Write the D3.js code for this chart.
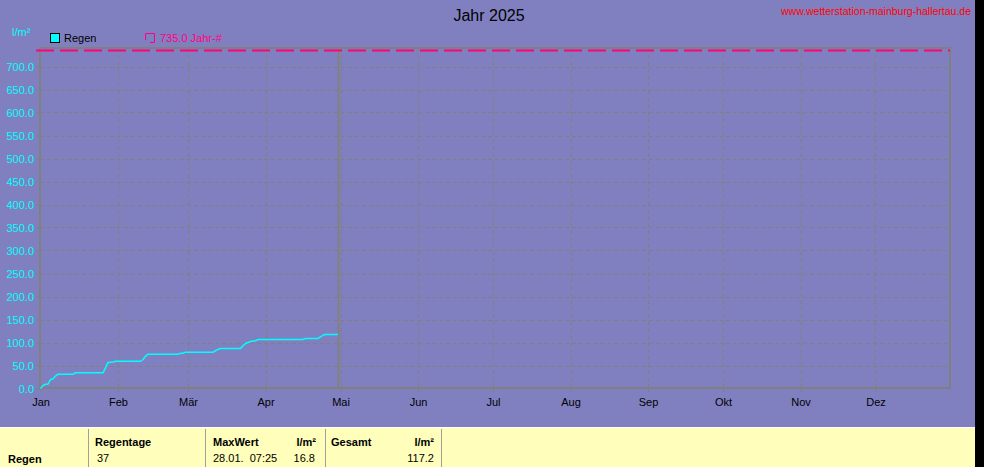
<!DOCTYPE html>
<html>
<head>
<meta charset="utf-8">
<script src="https://cdn.jsdelivr.net/npm/d3@7"></script>
<style>
  html, body { margin: 0; padding: 0; background: #8080C0; }
  svg { display: block; }
  text { font-family: "Liberation Sans", Arial, sans-serif; }
</style>
</head>
<body>
<svg id="chart" width="984" height="467"></svg>
<script>
// ---- data ----
const monthLabels = ["Jan","Feb","Mär","Apr","Mai","Jun","Jul","Aug","Sep","Okt","Nov","Dez"];
const yTicks = [0,50,100,150,200,250,300,350,400,450,500,550,600,650,700];
// day index from 1 Jan 2025, cumulative rain l/m²
const rainDays = [0,1,2,3,4,5,6,7,13,14,25,26,27,28,29,30,40,41,42,43,55,56,57,58,69,70,71,72,80,81,82,83,84,86,87,105,106,111,112,113,114,119];
const rainSum  = [0,6.5,9.3,9.5,19.5,21,27,31,31,34,34,45,56.5,57,57.5,59,59,63,70,74.5,74.5,76.7,76.7,79,79,82,85,87,87,93,97.8,100,102,104,106.5,106.5,108.7,108.7,112,116,117.2,117.2];
const yearAvg = 735.0;
const todayIndex = 119.2;
const title = "Jahr 2025";
const siteUrl = "www.wetterstation-mainburg-hallertau.de";
const tableHeaders = ["Regentage","MaxWert","l/m²","Gesamt","l/m²"];
const tableValues = {name: "Regen", days: "37", maxDate: "28.01.  07:25", maxVal: "16.8", total: "117.2"};

// ---- chart ----
const svg = d3.select("#chart");
const W = 984, H = 467;
const start = new Date(2025, 0, 1);
const end = new Date(2025, 11, 31);
const x = d3.scaleTime().domain([start, end]).range([40.5, 950.5]);
const y = d3.scaleLinear().domain([0, 740]).range([388.5, 48.1]);
const dayDate = d => d3.timeDay.offset(start, Math.floor(d)).getTime() + (d % 1) * 864e5;

const gray = "#808080";
svg.append("rect").attr("width", W).attr("height", H).attr("fill", "#8080C0");
svg.append("rect").attr("x", 975).attr("y", 0).attr("width", 9).attr("height", H).attr("fill", "#000");

// title + url
svg.append("text").attr("x", 489).attr("y", 21).attr("text-anchor", "middle")
  .attr("font-size", 16).attr("fill", "#000").text(title);
svg.append("text").attr("x", 781).attr("y", 15)
  .attr("font-size", 11).attr("fill", "#FF0000")
  .attr("textLength", 190).attr("lengthAdjust", "spacingAndGlyphs").text(siteUrl);

// unit label
svg.append("text").attr("x", 12).attr("y", 36).attr("font-size", 11).attr("fill", "#00FFFF").text("l/m²");

// legend
svg.append("rect").attr("x", 50.5).attr("y", 33.5).attr("width", 9).attr("height", 9)
  .attr("fill", "#00FFFF").attr("stroke", "#000");
svg.append("text").attr("x", 64).attr("y", 42).attr("font-size", 11).attr("fill", "#000").text("Regen");
svg.append("path").attr("d", "M145.5,40 V33.5 H154.5 V42.5 H150")
  .attr("fill", "none").attr("stroke", "#FF0080");
svg.append("text").attr("x", 160).attr("y", 42).attr("font-size", 11).attr("fill", "#FF0080")
  .text(d3.format(".1f")(yearAvg) + " Jahr-#");

// gridlines
const months = d3.timeMonth.range(start, new Date(2026, 0, 1));
svg.append("g").selectAll("line").data(yTicks.filter(v => v > 0)).join("line")
  .attr("x1", 40).attr("x2", 950).attr("y1", d => Math.round(y(d)) + 0.5).attr("y2", d => Math.round(y(d)) + 0.5)
  .attr("stroke", gray).attr("stroke-dasharray", "4,3");
svg.append("g").selectAll("line").data(months.slice(1)).join("line")
  .attr("x1", d => Math.round(x(d)) + 0.5).attr("x2", d => Math.round(x(d)) + 0.5)
  .attr("y1", 48).attr("y2", 388).attr("stroke", gray).attr("stroke-dasharray", "4,3");

// frame
svg.append("rect").attr("x", 40).attr("y", 48).attr("width", 910).attr("height", 340)
  .attr("fill", "none").attr("stroke", gray).attr("stroke-width", 2);

// today marker
svg.append("line").attr("x1", x(dayDate(todayIndex))).attr("x2", x(dayDate(todayIndex)))
  .attr("y1", 48).attr("y2", 388).attr("stroke", gray).attr("stroke-width", 2);

// axes
const yAxis = d3.axisLeft(y).tickValues(yTicks).tickFormat(d3.format(".1f")).tickSize(4).tickPadding(2);
const gy = svg.append("g").attr("transform", "translate(40,0)").call(yAxis);
gy.select(".domain").remove();
gy.selectAll("line").attr("stroke", gray);
gy.selectAll("text").attr("fill", "#00FFFF").attr("font-size", 11)
  .attr("font-family", "Liberation Sans, Arial, sans-serif");

const xAxis = d3.axisBottom(x).tickValues(months).tickFormat(d => monthLabels[d.getMonth()]).tickSize(4).tickPadding(6);
const gx = svg.append("g").attr("transform", "translate(0,388)").call(xAxis);
gx.select(".domain").remove();
gx.selectAll("line").attr("stroke", gray);
gx.selectAll("text").attr("fill", "#000").attr("font-size", 11)
  .attr("font-family", "Liberation Sans, Arial, sans-serif");

// year average dashed line
svg.append("line").attr("x1", 36).attr("x2", 950).attr("y1", y(yearAvg)).attr("y2", y(yearAvg))
  .attr("stroke", "#FF0080").attr("stroke-width", 2).attr("stroke-dasharray", "18,6");

// rain line
const pts = rainDays.map((d, i) => [dayDate(d), rainSum[i]]);
svg.append("path").datum(pts)
  .attr("fill", "none").attr("stroke", "#00FFFF").attr("stroke-width", 1.5)
  .attr("d", d3.line().x(d => x(d[0])).y(d => y(d[1])));

// ---- table ----
svg.append("rect").attr("x", 0).attr("y", 427).attr("width", 975).attr("height", 40).attr("fill", "#FFFFBB");
svg.append("line").attr("x1", 0).attr("x2", 975).attr("y1", 427.5).attr("y2", 427.5).attr("stroke", "#FFFFFF");
[88, 205, 325, 441].forEach(xx => {
  svg.append("line").attr("x1", xx + 0.5).attr("x2", xx + 0.5).attr("y1", 429).attr("y2", 467)
    .attr("stroke", "#A0A0A0");
});
const tb = (t, xx, yy, anchor, bold) => svg.append("text").attr("x", xx).attr("y", yy)
  .attr("text-anchor", anchor).attr("font-size", 11).attr("font-weight", bold ? "bold" : "normal")
  .attr("fill", "#000").text(t);
tb(tableValues.name, 8, 463, "start", true);
tb(tableHeaders[0], 95, 446, "start", true);
tb(tableHeaders[1], 213, 446, "start", true);
tb(tableHeaders[2], 316, 446, "end", true);
tb(tableHeaders[3], 331, 446, "start", true);
tb(tableHeaders[4], 434, 446, "end", true);
tb(tableValues.days, 97, 462, "start", false);
tb(tableValues.maxDate, 213, 462, "start", false).attr("xml:space", "preserve").style("white-space", "pre");
tb(tableValues.maxVal, 315, 462, "end", false);
tb(tableValues.total, 434, 462, "end", false);
</script>
</body>
</html>
